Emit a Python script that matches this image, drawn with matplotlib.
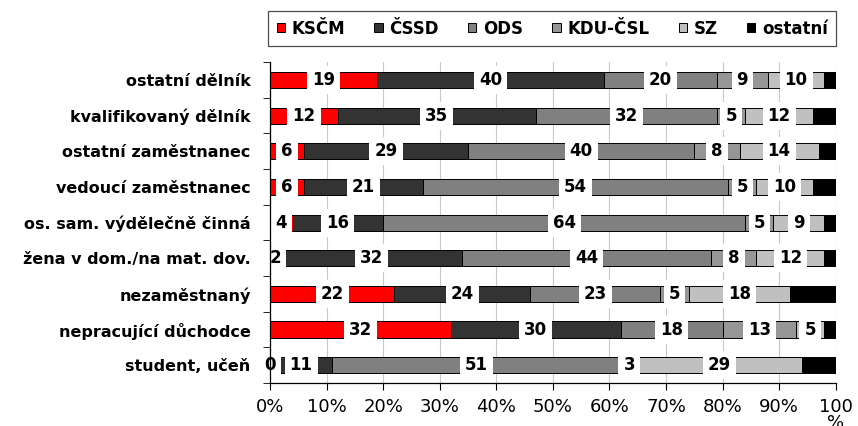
import numpy as np
import matplotlib.pyplot as plt

categories = ["ostatní dělník", "kvalifikovaný dělník", "ostatní zaměstnanec",
              "vedoucí zaměstnanec", "os. sam. výdělečně činná",
              "žena v dom./na mat. dov.", "nezaměstnaný",
              "nepracující důchodce", "student, učeň"]
parties = ["KSČM", "ČSSD", "ODS", "KDU-ČSL", "SZ", "ostatní"]

ksc = [19, 12, 6, 6, 4, 2, 22, 32, 0]
cssd = [40, 35, 29, 21, 16, 32, 24, 30, 11]
ods = [20, 32, 40, 54, 64, 44, 23, 18, 51]
kdu = [9, 5, 8, 5, 5, 8, 5, 13, 3]
sz = [10, 12, 14, 10, 9, 12, 18, 5, 29]
ostatni = [2, 4, 3, 4, 2, 2, 8, 2, 6]

colors = ["#ff0000", "#333333", "#808080", "#969696", "#c0c0c0", "#000000"]

series = [ksc, cssd, ods, kdu, sz, ostatni]

fig = plt.figure(figsize=(8.58, 4.26), dpi=100)
ax = fig.add_axes([0.3147, 0.101, 0.6593, 0.753])

y = np.arange(len(categories))
left = np.zeros(len(categories))
for name, vals, col in zip(parties, series, colors):
    vals = np.array(vals, dtype=float)
    ax.barh(y, vals, left=left, height=0.45, color=col, edgecolor="black",
            linewidth=0.7, label=name, zorder=2)
    # value labels in white boxes (not for "ostatní")
    if name != "ostatní":
        for yi, (l, v) in enumerate(zip(left, vals)):
            ax.text(l + v / 2, yi, f"{int(v)}", ha="center", va="center",
                    fontsize=12, fontweight="bold", zorder=4, clip_on=False,
                    bbox=dict(boxstyle="square,pad=0.3", fc="white", ec="none"))
    left += vals

ax.set_xlim(0, 100)
ax.set_ylim(len(categories) - 0.5, -0.5)
ax.set_xticks(np.arange(0, 101, 10))
ax.set_xticklabels([f"{t}%" for t in range(0, 100, 10)] + ["100\n%"])
ax.tick_params(axis="x", labelsize=13, length=5, direction="out", pad=6)
for lab in ax.get_xticklabels():
    lab.set_linespacing(0.85)

ax.set_yticks(y)
ax.set_yticklabels(categories, fontsize=11.5, fontweight="bold")
ax.set_yticks(np.arange(-0.5, len(categories)), minor=True)
ax.tick_params(axis="y", which="major", length=0, pad=14)
ax.tick_params(axis="y", which="minor", length=5, direction="out")

ax.grid(axis="x", color="#c8c8c8", linewidth=0.8, zorder=0)
ax.set_axisbelow(True)
for s in ["top", "right"]:
    ax.spines[s].set_visible(False)
ax.spines["left"].set_linewidth(0.9)
ax.spines["bottom"].set_linewidth(0.9)
ax.spines["left"].set_zorder(5)

leg = fig.legend(loc="center", bbox_to_anchor=(0.6436, 0.933),
                 ncol=6, frameon=True, fancybox=False,
                 prop={"weight": "bold", "size": 12}, handlelength=0.5,
                 handleheight=0.5, handletextpad=0.4, borderaxespad=0,
                 borderpad=0.5, columnspacing=1.75)
leg.get_frame().set_edgecolor("#202020")
leg.get_frame().set_linewidth(0.9)

fig.savefig("out.png", dpi=100)
